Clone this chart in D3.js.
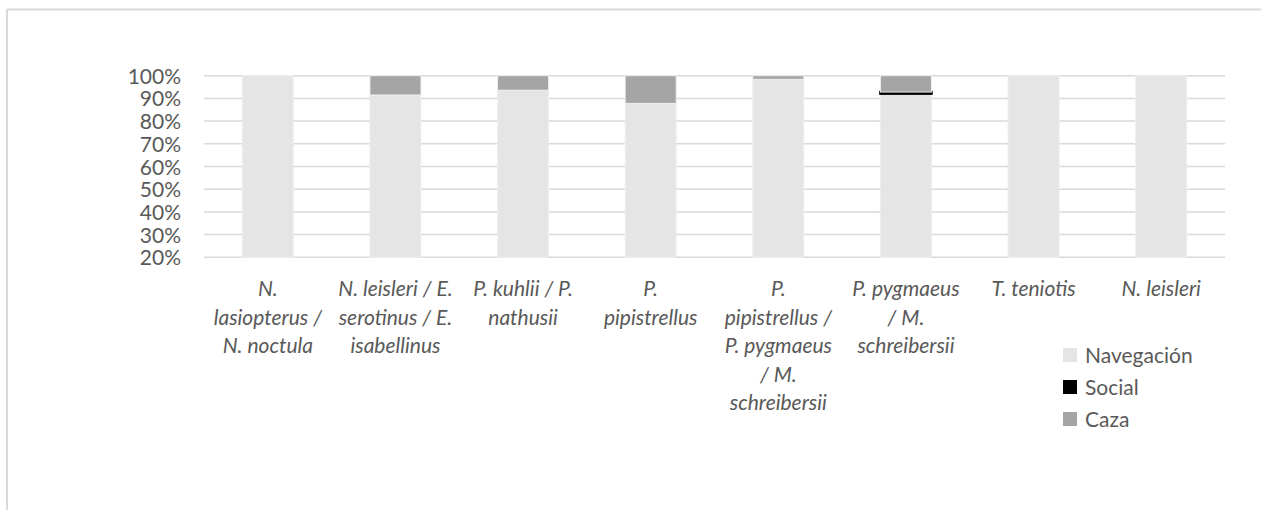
<!DOCTYPE html>
<html>
<head>
<meta charset="utf-8">
<script src="https://cdn.jsdelivr.net/npm/d3@7"></script>
<style>
  html, body { margin: 0; padding: 0; background: #fff; }
  svg { display: block; }
  text { font-family: Lato, "Open Sans", sans-serif; fill: #595959; }
</style>
</head>
<body>
<svg id="chart" width="1261" height="510"></svg>
<script>
// ---- data ----
const categories = [
  "N. lasiopterus / N. noctula",
  "N. leisleri / E. serotinus / E. isabellinus",
  "P. kuhlii / P. nathusii",
  "P. pipistrellus",
  "P. pipistrellus / P. pygmaeus / M. schreibersii",
  "P. pygmaeus / M. schreibersii",
  "T. teniotis",
  "N. leisleri"
];
const categoryLines = [
  ["N.", "lasiopterus /", "N. noctula"],
  ["N. leisleri / E.", "serotinus / E.", "isabellinus"],
  ["P. kuhlii / P.", "nathusii"],
  ["P.", "pipistrellus"],
  ["P.", "pipistrellus /", "P. pygmaeus", "/ M.", "schreibersii"],
  ["P. pygmaeus", "/ M.", "schreibersii"],
  ["T. teniotis"],
  ["N. leisleri"]
];
const seriesNames = ["Navegación", "Social", "Caza"];
const navegacion = [1.000, 0.915, 0.936, 0.878, 0.984, 0.921, 1.000, 1.000];
const social     = [0.000, 0.000, 0.000, 0.000, 0.000, 0.007, 0.000, 0.000];
const caza       = [0.000, 0.085, 0.064, 0.122, 0.016, 0.072, 0.000, 0.000];
const yTicks = [0.2, 0.3, 0.4, 0.5, 0.6, 0.7, 0.8, 0.9, 1.0];

// ---- chart ----
const svg = d3.select("#chart");
const colors = { "Navegación": "#e5e5e5", "Social": "#000000", "Caza": "#a5a5a5" };

// outer chart border (partially visible)
svg.append("line").attr("x1", 7).attr("x2", 1261).attr("y1", 9.5).attr("y2", 9.5)
  .attr("stroke", "#d9d9d9").attr("stroke-width", 2);
svg.append("line").attr("x1", 7).attr("x2", 7).attr("y1", 9.5).attr("y2", 510)
  .attr("stroke", "#d9d9d9").attr("stroke-width", 2);

const plot = { left: 204, right: 1225, top: 75.7, bottom: 257.3 };
const x = d3.scaleBand().domain(categories).range([plot.left, plot.right]).paddingInner(0.6).paddingOuter(0.3);
const y = d3.scaleLinear().domain([0.2, 1.0]).range([plot.bottom, plot.top]);

// gridlines
svg.append("g").selectAll("line").data(yTicks).join("line")
  .attr("x1", plot.left).attr("x2", plot.right)
  .attr("y1", d => y(d)).attr("y2", d => y(d))
  .attr("stroke", "#d9d9d9").attr("stroke-width", 1.5);

// y axis labels
const yAxis = d3.axisLeft(y).tickValues(yTicks).tickFormat(d3.format(".0%")).tickSize(0).tickPadding(0);
const yg = svg.append("g").attr("transform", `translate(181,0)`).call(yAxis);
yg.select(".domain").remove();
yg.selectAll("text").attr("font-size", 21).attr("fill", "#595959")
  .style("font-family", "Lato, 'Open Sans', sans-serif").attr("dy", "0.36em");

// stacked data
const rows = categories.map((c, i) => ({
  cat: c, "Navegación": navegacion[i], "Social": social[i], "Caza": caza[i]
}));
const stack = d3.stack().keys(seriesNames).offset(d3.stackOffsetExpand);
const stacked = stack(rows);

const ymin = 0.2;
const gBars = svg.append("g");
stacked.forEach(layer => {
  const key = layer.key;
  gBars.append("g").selectAll("rect").data(layer).join("rect")
    .filter(d => d[1] - d[0] > 0)
    .attr("x", d => x(d.data.cat))
    .attr("width", x.bandwidth())
    .attr("y", d => y(d[1]))
    .attr("height", d => y(Math.max(d[0], ymin)) - y(d[1]))
    .attr("fill", colors[key])
    .attr("stroke", key === "Social" ? "#000" : "#efefef")
    .attr("stroke-width", key === "Social" ? 2.5 : 1);
});

// category labels
const lineH = 28.5;
const firstBaseline = 296;
const gx = svg.append("g");
categories.forEach((c, i) => {
  const cx = x(c) + x.bandwidth() / 2;
  const t = gx.append("text")
    .attr("x", cx)
    .attr("y", firstBaseline)
    .attr("text-anchor", "middle")
    .attr("font-size", 21)
    .attr("font-style", "italic");
  categoryLines[i].forEach((ln, j) => {
    t.append("tspan").attr("x", cx).attr("y", firstBaseline + j * lineH).text(ln);
  });
});

// legend
const legend = svg.append("g");
seriesNames.forEach((s, i) => {
  const top = 348 + i * 32;
  legend.append("rect").attr("x", 1063).attr("y", top).attr("width", 14).attr("height", 14)
    .attr("fill", colors[s]);
  legend.append("text").attr("x", 1085).attr("y", top + 7).attr("dy", "0.36em")
    .attr("font-size", 21).text(s);
});
</script>
</body>
</html>
